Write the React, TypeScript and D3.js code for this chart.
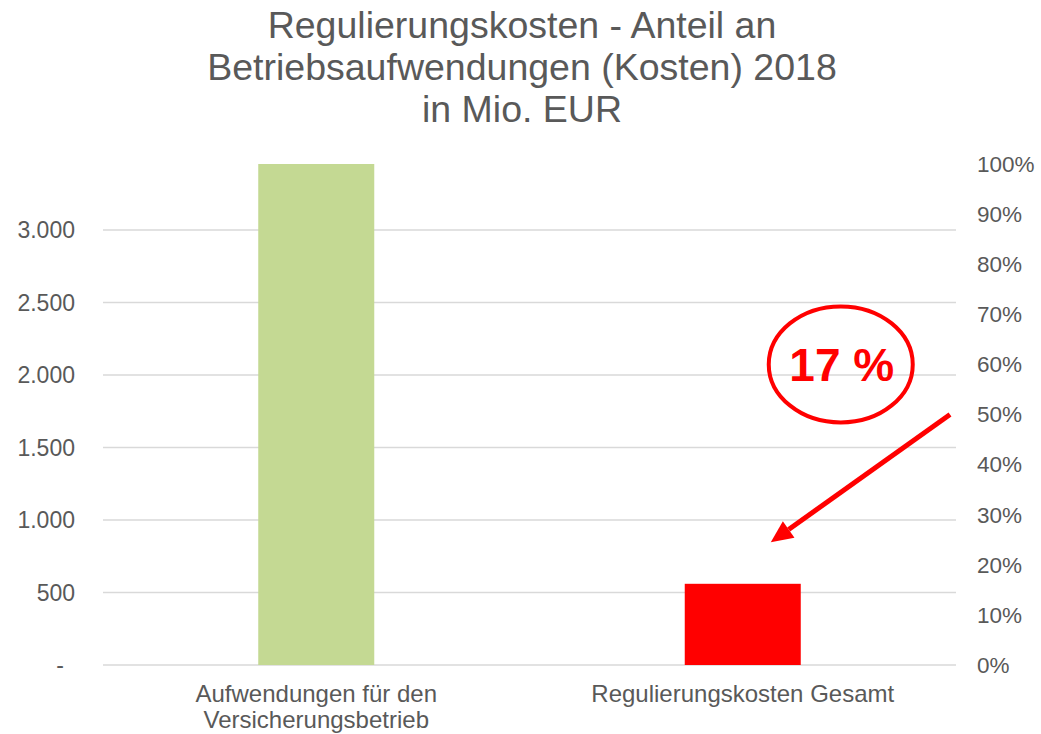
import React from "react";
import * as d3 from "d3";

// data (Mio. EUR)
const categories = ["Aufwendungen für den Versicherungsbetrieb", "Regulierungskosten Gesamt"];
const categoryLines = [["Aufwendungen für den", "Versicherungsbetrieb"], ["Regulierungskosten Gesamt"]];
const values = [3455, 560];
const barColors = ["#c4d993", "#ff0000"];
const leftTicks = [0, 500, 1000, 1500, 2000, 2500, 3000];
const rightTicks = [0, 0.1, 0.2, 0.3, 0.4, 0.5, 0.6, 0.7, 0.8, 0.9, 1];
const titleLines = ["Regulierungskosten - Anteil an", "Betriebsaufwendungen (Kosten) 2018", "in Mio. EUR"];
const shareLabel = "17 %";

const width = 1041;
const height = 734;
const margin = { top: 164, right: 85, bottom: 69, left: 103 };
const font = "'Liberation Sans', Arial, sans-serif";
const textColor = "#595959";

export default function App() {
  const x = d3
    .scaleBand()
    .domain(categories)
    .range([margin.left, width - margin.right])
    .paddingInner(0.728)
    .paddingOuter(0.364);

  const yLeft = d3
    .scaleLinear()
    .domain([0, values[0]])
    .range([height - margin.bottom, margin.top]);

  const yRight = d3
    .scaleLinear()
    .domain([0, 1])
    .range([height - margin.bottom, margin.top]);

  const fmt = (v) => (v === 0 ? "-" : d3.format(",")(v).replace(/,/g, "."));

  // annotation positions derived from the scales
  const c2 = x(categories[1]) + x.bandwidth() / 2;
  const ex = c2 + 98;
  const ey = yRight(0.6);
  const a0 = [width - margin.right - 6, yRight(0.5)];
  const a1 = [c2 + 28, yRight(0.245)];
  const ang = Math.atan2(a1[1] - a0[1], a1[0] - a0[0]);
  const headLen = 22;
  const headW = 10;
  const hb = [a1[0] - headLen * Math.cos(ang), a1[1] - headLen * Math.sin(ang)];
  const head = [
    a1,
    [hb[0] + headW * Math.sin(ang), hb[1] - headW * Math.cos(ang)],
    [hb[0] - headW * Math.sin(ang), hb[1] + headW * Math.cos(ang)],
  ];

  return (
    <svg width={width} height={height} style={{ position: "absolute", left: 0, top: 0 }} fontFamily={font}>
      <rect width={width} height={height} fill="#fff" />

      {/* title */}
      <text x={522} textAnchor="middle" fill={textColor} fontSize={37.5}>
        {titleLines.map((t, i) => (
          <tspan key={i} x={522} y={38 + i * 42}>
            {t}
          </tspan>
        ))}
      </text>

      {/* gridlines + left axis */}
      {leftTicks.map((t) => (
        <g key={t}>
          <line
            x1={margin.left}
            x2={width - margin.right}
            y1={yLeft(t)}
            y2={yLeft(t)}
            stroke="#d9d9d9"
            strokeWidth={1.5}
          />
          <text
            x={t === 0 ? 64 : 75}
            y={yLeft(t)}
            dy="0.35em"
            textAnchor="end"
            fill={textColor}
            fontSize={23}
          >
            {fmt(t)}
          </text>
        </g>
      ))}

      {/* right axis */}
      {rightTicks.map((t) => (
        <text key={t} x={977} y={yRight(t)} dy="0.35em" fill={textColor} fontSize={22.5}>
          {d3.format(".0%")(t)}
        </text>
      ))}

      {/* bars */}
      {categories.map((c, i) => (
        <rect
          key={c}
          x={x(c)}
          y={yLeft(values[i])}
          width={x.bandwidth()}
          height={yLeft(0) - yLeft(values[i])}
          fill={barColors[i]}
        />
      ))}

      {/* category labels */}
      {categories.map((c, i) => (
        <text key={c} textAnchor="middle" fill={textColor} fontSize={24}>
          {categoryLines[i].map((l, j) => (
            <tspan key={j} x={x(c) + x.bandwidth() / 2} y={702 + j * 26}>
              {l}
            </tspan>
          ))}
        </text>
      ))}

      {/* annotation */}
      <ellipse cx={ex} cy={ey} rx={72} ry={58} fill="none" stroke="#ff0000" strokeWidth={4} />
      <text x={ex + 1} y={ey + 17} textAnchor="middle" fill="#ff0000" fontSize={46} fontWeight="bold">
        {shareLabel}
      </text>
      <line x1={a0[0]} y1={a0[1]} x2={hb[0]} y2={hb[1]} stroke="#ff0000" strokeWidth={5} />
      <polygon points={head.map((p) => p.join(",")).join(" ")} fill="#ff0000" />
    </svg>
  );
}
